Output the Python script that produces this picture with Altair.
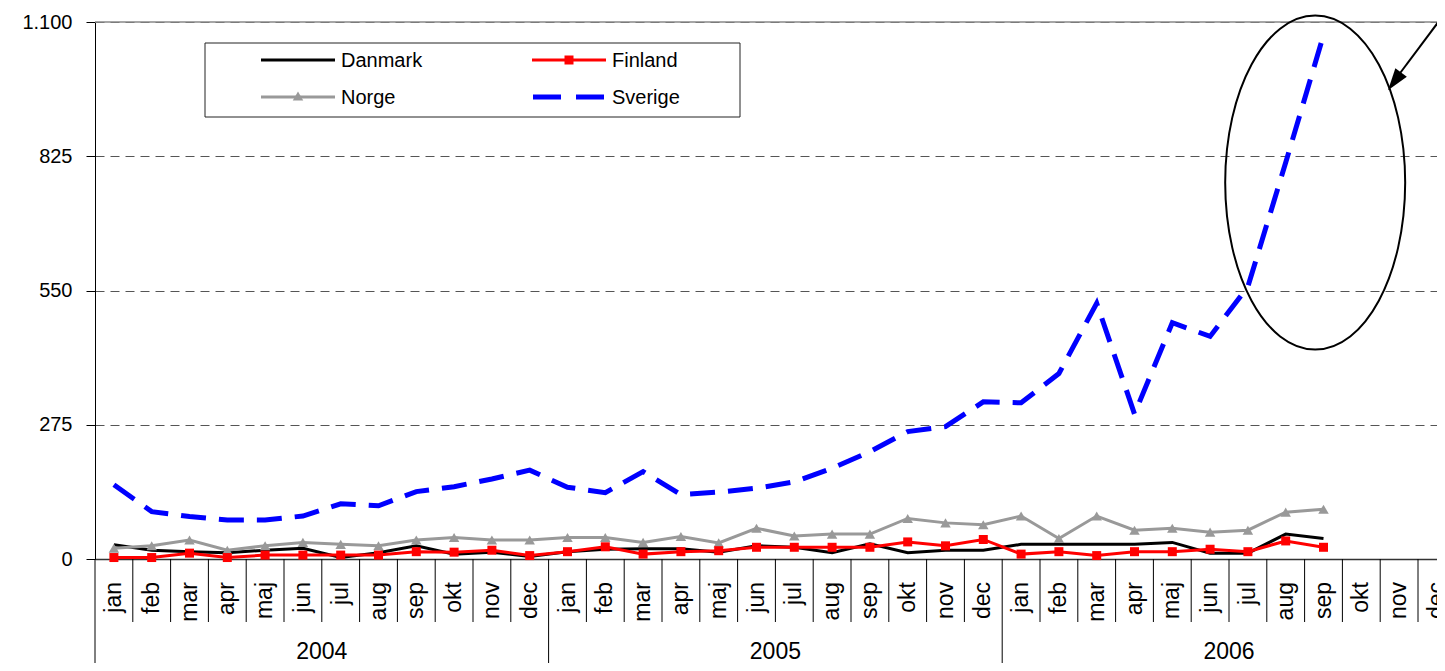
import altair as alt
import pandas as pd

months = ["jan", "feb", "mar", "apr", "maj", "jun", "jul", "aug", "sep", "okt", "nov", "dec"]
years = ["2004", "2005", "2006"]

danmark = [29, 18, 15, 13, 18, 22, 3, 13, 27, 10, 14, 5,
           15, 20, 21, 21, 14, 27, 24, 13, 31, 13, 18, 18,
           30, 30, 30, 30, 34, 12, 12, 51, 42]
finland = [3, 3, 12, 3, 8, 8, 8, 8, 15, 14, 18, 7,
           15, 25, 10, 15, 17, 24, 24, 24, 24, 35, 27, 40,
           10, 15, 7, 15, 15, 20, 15, 37, 24]
norge = [22, 27, 39, 18, 27, 34, 30, 27, 39, 44, 39, 39,
         44, 44, 34, 46, 33, 63, 47, 51, 51, 83, 74, 70,
         88, 42, 88, 59, 63, 55, 59, 96, 102]
sverige = [152, 97, 87, 80, 80, 88, 113, 109, 138, 148, 164, 182,
           147, 136, 179, 132, 137, 145, 158, 186, 220, 261, 271, 322,
           320, 380, 524, 297, 484, 456, 558, 812, 1073]

y_ticks = [0, 275, 550, 825, 1100]

FONT = "Liberation Sans"
W, H = 1342, 537
XMAX = 1342 / 37.8

rows = []
for name, vals in [("Danmark", danmark), ("Finland", finland), ("Norge", norge), ("Sverige", sverige)]:
    for i, v in enumerate(vals):
        rows.append({"serie": name, "t": i + 0.5, "v": v})
df = pd.DataFrame(rows)

xs = alt.Scale(domain=[0, XMAX], nice=False, zero=False)
ys = alt.Scale(domain=[0, 1100], nice=False, zero=True)

X = alt.X("t:Q", scale=xs, title=None,
          axis=alt.Axis(labels=False, ticks=False, grid=False, domainColor="#333",
                        domainWidth=1.5, title=None))
Y = alt.Y("v:Q", scale=ys, title=None,
          axis=alt.Axis(values=y_ticks, grid=True, gridDash=[9, 6], gridColor="#555", gridWidth=1,
                        labelExpr="datum.value == 1100 ? '1.100' : datum.label",
                        domainColor="black", domainWidth=1, tickColor="black", tickSize=9,
                        labelFont=FONT, labelFontSize=20, labelColor="black", labelPadding=14,
                        title=None))

base = alt.Chart(df)


def series(name):
    return base.transform_filter(alt.datum.serie == name)


dk = series("Danmark").mark_line(color="black", strokeWidth=3).encode(x=X, y=Y)
no_line = series("Norge").mark_line(color="#999999", strokeWidth=3).encode(x=X, y=Y)
no_pts = series("Norge").mark_point(shape="triangle-up", size=110, filled=True, color="#999999",
                                    opacity=1).encode(x=X, y=Y)
fi_line = series("Finland").mark_line(color="#FF0000", strokeWidth=3).encode(x=X, y=Y)
fi_pts = series("Finland").mark_point(shape="square", size=81, filled=True, color="#FF0000",
                                      opacity=1).encode(x=X, y=Y)
se_line = series("Sverige").mark_line(color="#0000FF", strokeWidth=5,
                                      strokeDash=[25, 13]).encode(x=X, y=Y)

# top border line at 1100
top_line = alt.Chart(pd.DataFrame({"v": [1100]})).mark_rule(color="#888888", strokeWidth=1.5).encode(
    y=Y, x=alt.value(0), x2=alt.value(W))

# month labels and separators
mdf = pd.DataFrame({"t": [i + 0.5 for i in range(36)], "label": months * 3})
mlabels = alt.Chart(mdf).mark_text(angle=270, align="right", baseline="middle", font=FONT,
                                   fontSize=23, color="black").encode(
    x=X, y=alt.value(H + 23), text="label:N")

sdf = pd.DataFrame({"t": [i for i in range(1, 36) if i % 12 != 0]})
msep = alt.Chart(sdf).mark_rule(color="black", strokeWidth=1).encode(
    x=X, y=alt.value(H), y2=alt.value(H + 63))

ydf = pd.DataFrame({"t": [0, 12, 24]})
ysep = alt.Chart(ydf).mark_rule(color="black", strokeWidth=1).encode(
    x=X, y=alt.value(H), y2=alt.value(H + 112))

yldf = pd.DataFrame({"t": [6, 18, 30], "label": years})
ylabels = alt.Chart(yldf).mark_text(align="center", baseline="middle", font=FONT, fontSize=23,
                                    color="black").encode(x=X, y=alt.value(H + 93), text="label:N")

# legend (manual)
one = pd.DataFrame({"a": [0]})
leg_box = alt.Chart(one).mark_rect(fill="white", stroke="#222222", strokeWidth=1).encode(
    x=alt.value(110), x2=alt.value(645), y=alt.value(21), y2=alt.value(95))


def leg_text(txt, x, y):
    return alt.Chart(one).mark_text(text=txt, align="left", baseline="middle", font=FONT,
                                    fontSize=20, color="black").encode(x=alt.value(x), y=alt.value(y))


leg_dk = alt.Chart(one).mark_rule(color="black", strokeWidth=3).encode(
    x=alt.value(166), x2=alt.value(240), y=alt.value(38))
leg_fi = alt.Chart(one).mark_rule(color="#FF0000", strokeWidth=3).encode(
    x=alt.value(437), x2=alt.value(511), y=alt.value(38))
leg_fi_pt = alt.Chart(one).mark_point(shape="square", size=81, filled=True, color="#FF0000",
                                      opacity=1).encode(x=alt.value(474), y=alt.value(38))
leg_no = alt.Chart(one).mark_rule(color="#999999", strokeWidth=3).encode(
    x=alt.value(166), x2=alt.value(240), y=alt.value(75))
leg_no_pt = alt.Chart(one).mark_point(shape="triangle-up", size=110, filled=True, color="#999999",
                                      opacity=1).encode(x=alt.value(203), y=alt.value(74))
leg_se = alt.Chart(one).mark_rule(color="#0000FF", strokeWidth=5, strokeDash=[28, 15]).encode(
    x=alt.value(438), x2=alt.value(509), y=alt.value(75))

legend = [leg_box, leg_dk, leg_text("Danmark", 246, 39), leg_fi, leg_fi_pt, leg_text("Finland", 517, 39),
          leg_no, leg_no_pt, leg_text("Norge", 246, 76), leg_se, leg_text("Sverige", 517, 76)]

# annotation: ellipse and arrow
rx = 90 / 167
k = 0.5523
kx = k * rx
ellipse_path = (f"M0,-1 C{kx:.4f},-1 {rx:.4f},-{k} {rx:.4f},0 "
                f"C{rx:.4f},{k} {kx:.4f},1 0,1 "
                f"C-{kx:.4f},1 -{rx:.4f},{k} -{rx:.4f},0 "
                f"C-{rx:.4f},-{k} -{kx:.4f},-1 0,-1 Z")
ell = alt.Chart(pd.DataFrame({"t": [32.28], "v": [771]})).mark_point(
    shape=ellipse_path, size=334 ** 2, filled=False, stroke="black", strokeWidth=2, opacity=1
).encode(x=X, y=Y)

arrow_line = alt.Chart(pd.DataFrame({"t": [35.77], "v": [1124], "t2": [34.3], "v2": [972]})).mark_rule(
    color="black", strokeWidth=2).encode(x=X, y=Y, x2="t2:Q", y2="v2:Q")
arrow_head = alt.Chart(pd.DataFrame({"t": [34.38], "v": [978.5]})).mark_point(
    shape="M0,-1 L0.65,1 L-0.65,1 Z", size=484, filled=True, color="black", opacity=1, angle=216.5
).encode(x=X, y=Y)

chart = alt.layer(
    top_line, msep, ysep, mlabels, ylabels,
    dk, no_line, no_pts, fi_line, fi_pts, se_line,
    *legend, ell, arrow_line, arrow_head
).properties(
    width=W, height=H,
    autosize=alt.AutoSizeParams(type="none"),
    padding={"left": 87, "top": 14, "right": 0, "bottom": 104},
).configure_view(stroke=None)

chart.save("out.html", embed_options={"renderer": "svg", "actions": False})
